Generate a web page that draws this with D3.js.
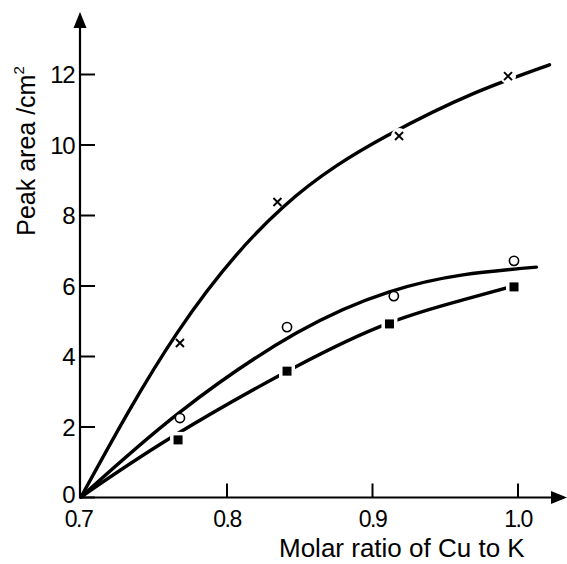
<!DOCTYPE html>
<html><head><meta charset="utf-8">
<script src="https://cdn.jsdelivr.net/npm/d3@7"></script>
<style>body{margin:0;background:#fff}svg{display:block}</style>
</head><body>
<svg id="c" width="567" height="564"></svg>
<script>
// ---- data ----
const xTicks = [0.7, 0.8, 0.9, 1.0];
const xTickLabels = ["0.7", "0.8", "0.9", "1.0"];
const yTicks = [0, 2, 4, 6, 8, 10, 12];
const xTitle = "Molar ratio of Cu to K";
const yTitle = "Peak area /cm";

// measured points
const crossPts  = [[0.768, 4.37], [0.835, 8.37], [0.9186, 10.24], [0.9935, 11.94]];
const circlePts = [[0.768, 2.24], [0.8416, 4.82], [0.915, 5.70], [0.9976, 6.70]];
const squarePts = [[0.7667, 1.62], [0.8416, 3.57], [0.912, 4.91], [0.9976, 5.96]];

// hand-drawn fitted curves (traced)
const crossCurve  = [[0.7, 0], [0.766, 4.65], [0.839, 8.23], [0.910, 10.24], [0.970, 11.45], [1.022, 12.26]];
const circleCurve = [[0.7, 0], [0.768, 2.41], [0.848, 4.65], [0.912, 5.82], [0.9625, 6.30], [1.013, 6.52]];
const squareCurve = [[0.7, 0], [0.7625, 1.70], [0.846, 3.66], [0.912, 4.94], [0.9625, 5.59], [0.995, 5.96]];

// ---- drawing ----
const svg = d3.select("#c");
const x = d3.scaleLinear().domain([0.7, 1.0]).range([81, 517.5]);
const y = d3.scaleLinear().domain([0, 12]).range([497, 74]);
const FONT = "'Liberation Sans', Arial, sans-serif";

// axes lines with arrows
svg.append("line").attr("x1", 80).attr("x2", 80).attr("y1", y(0) + 1).attr("y2", 24)
  .attr("stroke", "#000").attr("stroke-width", 2.2);
svg.append("path").attr("d", `M80,12 L73.5,28 L86.5,28 Z`).attr("fill", "#000");
svg.append("line").attr("x1", 79).attr("x2", 556).attr("y1", y(0) + 0.5).attr("y2", y(0) + 0.5)
  .attr("stroke", "#000").attr("stroke-width", 2.2);
svg.append("path").attr("d", `M567,${y(0)+0.5} L551,${y(0)-6} L551,${y(0)+7} Z`).attr("fill", "#000");

// y axis
const gy = svg.append("g").attr("transform", "translate(80,0)")
  .call(d3.axisLeft(y).tickValues(yTicks).tickSize(-15).tickPadding(6).tickFormat(d3.format("d")));
gy.select(".domain").remove();
gy.selectAll(".tick line").attr("stroke-width", 2);
gy.selectAll(".tick text").attr("font-family", FONT).attr("font-size", 24)
  .attr("letter-spacing", -1.5).attr("fill", "#000").attr("dy", "0.36em");
gy.selectAll(".tick").filter(d => d === 0).select("text").attr("dy", "0.22em");

// x axis
const gx = svg.append("g").attr("transform", `translate(0,${y(0)+0.5})`)
  .call(d3.axisBottom(x).tickValues(xTicks).tickSize(-14).tickPadding(13)
    .tickFormat((d, i) => xTickLabels[i]));
gx.select(".domain").remove();
gx.selectAll(".tick line").attr("stroke-width", 2).filter(d => d === 0.7).remove();
gx.selectAll(".tick text").attr("font-family", FONT).attr("font-size", 23)
  .attr("letter-spacing", -1.5).attr("fill", "#000");
gx.selectAll(".tick").filter(d => d === 0.7).select("text").attr("dx", -3);

// titles
svg.append("text").attr("x", 279).attr("y", 557).attr("font-family", FONT).attr("font-size", 26)
  .attr("fill", "#000").text(xTitle);
const yt = svg.append("text").attr("transform", "translate(35,151) rotate(-90)")
  .attr("text-anchor", "middle").attr("font-family", FONT).attr("font-size", 25).attr("fill", "#000");
yt.append("tspan").text(yTitle);
yt.append("tspan").attr("font-size", 15).attr("dy", -11).text("2");

// curves
const line = d3.line().x(d => x(d[0])).y(d => y(d[1])).curve(d3.curveNatural);
[crossCurve, circleCurve, squareCurve].forEach(c => {
  svg.append("path").attr("d", line(c)).attr("fill", "none")
    .attr("stroke", "#000").attr("stroke-width", 3.4).attr("stroke-linecap", "round");
});

// markers
const gm = svg.append("g");
// squares with white halo (line gaps)
gm.selectAll(".sqh").data(squarePts).join("rect")
  .attr("x", d => x(d[0]) - 8).attr("y", d => y(d[1]) - 8).attr("width", 16).attr("height", 16)
  .attr("fill", "#fff");
gm.selectAll(".sq").data(squarePts).join("rect")
  .attr("x", d => x(d[0]) - 4.5).attr("y", d => y(d[1]) - 4.5).attr("width", 9).attr("height", 9)
  .attr("fill", "#000");
// circles
gm.selectAll(".ci").data(circlePts).join("circle")
  .attr("cx", d => x(d[0])).attr("cy", d => y(d[1])).attr("r", 4.6)
  .attr("fill", "#fff").attr("stroke", "#000").attr("stroke-width", 1.6);
// crosses
const crossPath = d => {
  const cx = x(d[0]), cy = y(d[1]), s = 4;
  return `M${cx-s},${cy-s}L${cx+s},${cy+s}M${cx+s},${cy-s}L${cx-s},${cy+s}`;
};
gm.selectAll(".crh").data(crossPts.filter((d, i) => i >= 2)).join("circle")
  .attr("cx", d => x(d[0])).attr("cy", d => y(d[1])).attr("r", 8).attr("fill", "#fff");
gm.selectAll(".cr").data(crossPts).join("path").attr("d", crossPath)
  .attr("stroke", "#000").attr("stroke-width", 1.9).attr("fill", "none");
</script>
</body></html>
